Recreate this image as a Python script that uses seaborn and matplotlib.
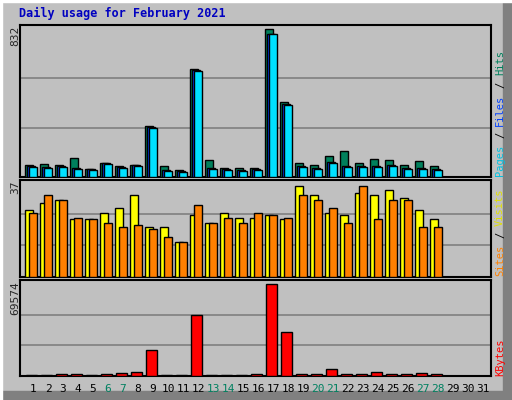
import numpy as np
import matplotlib
matplotlib.use('Agg')
import matplotlib.pyplot as plt
import seaborn as sns
from matplotlib.patches import Rectangle

sns.set_style('white')
plt.rcParams['font.family'] = ['DejaVu Sans Mono']

days = np.arange(1, 32)
weekend = [6, 7, 13, 14, 20, 21, 27, 28]

hits = [68, 74, 68, 108, 46, 79, 59, 68, 288, 63, 41, 607, 96, 52, 52, 52, 832, 420,
        79, 68, 118, 145, 79, 101, 96, 68, 90, 63, 0, 0, 0]
pages = [57, 52, 57, 46, 41, 74, 52, 63, 277, 35, 30, 596, 46, 41, 35, 41, 800, 404,
         57, 46, 79, 57, 57, 57, 63, 46, 46, 41, 0, 0, 0]
files = [p + 3 if p else 0 for p in pages]
visits = [26.2, 28.9, 30, 22.4, 22.4, 25, 27, 32, 19.3, 19.3, 13.5, 24.3, 21.2, 25, 23.1, 23.1,
          24.3, 22.4, 35.5, 32, 25, 24.3, 32.8, 32, 33.9, 30.8, 26.2, 22.4, 0, 0, 0]
sites = [25, 32, 30, 23.1, 22.4, 21.2, 19.3, 20.4, 18.5, 15.4, 13.5, 28.1, 21.2, 23.1, 21.2, 25,
         24.3, 23.1, 32, 30, 27, 21.2, 35.5, 22.4, 30, 30, 19.3, 19.3, 0, 0, 0]
kbytes = [700, 700, 1500, 1500, 700, 1500, 2200, 3300, 20000, 700, 700, 46400, 700, 700, 700,
          1500, 69574, 33700, 1500, 1500, 5500, 1500, 1500, 3300, 1500, 1500, 2200, 1500, 0, 0, 0]

W, H = 512, 400
fig = plt.figure(figsize=(W / 100, H / 100), dpi=100, facecolor='#C0C0C0')

# 3d border
fig.patches.append(Rectangle((503 / W, 0), 9 / W, 1, transform=fig.transFigure,
                             color='#808080', zorder=0))
fig.patches.append(Rectangle((0, 0), 1, 9 / H, transform=fig.transFigure,
                             color='#808080', zorder=0))
fig.patches.append(Rectangle((0, 1 - 2 / H), 1, 2 / H, transform=fig.transFigure,
                             color='white', zorder=0))
fig.patches.append(Rectangle((0, 0), 2 / W, 1, transform=fig.transFigure,
                             color='white', zorder=0))

X0, X1 = 20, 491
xlo = (X0 - 33) / 15 + 1
xhi = (X1 - 33) / 15 + 1


def panel(top, bottom):
    ax = fig.add_axes([X0 / W, 1 - bottom / H, (X1 - X0) / W, (bottom - top) / H])
    ax.set_facecolor('#C0C0C0')
    ax.set_xlim(xlo, xhi)
    for s in ax.spines.values():
        s.set_color('black')
        s.set_linewidth(1.5)
    ax.set_xticks([])
    ax.set_yticks([])
    return ax


def bars(ax, vals, off0, off1, color):
    w = (off1 - off0) / 15
    ax.bar(days + off0 / 15, vals, width=w, align='edge', color=color,
           edgecolor='black', linewidth=1, zorder=3)


def grid(ax, top, scale):
    ax.set_ylim(0, top * scale)
    for f in (1 / 3, 2 / 3):
        ax.axhline(top * f, color='#808080', lw=1.2, zorder=1)


ax1 = panel(25, 177)
grid(ax1, 832, 1.025)
bars(ax1, hits, -8, -0.3, '#00805C')
bars(ax1, files, -6, 1.7, '#0040FF')
bars(ax1, pages, -4, 3.7, '#00E0FF')

ax2 = panel(180, 277)
grid(ax2, 37, 1.02)
bars(ax2, visits, -8, 0.3, '#FFFF00')
bars(ax2, sites, -3.7, 3.7, '#FF8000')

ax3 = panel(280, 376)
grid(ax3, 69574, 1.045)
bars(ax3, kbytes, -7, 3.7, '#FF0000')

for d in days:
    fig.text((33 + 15 * (d - 1)) / W, 1 - 389 / H, str(d), ha='center', va='center',
             fontsize=8, color='#008060' if d in weekend else 'black')

fig.text(19 / W, 1 - 13 / H, 'Daily usage for February 2021', fontsize=8.5,
         fontweight='bold', color='#0000C0', va='center')

for y, lab in [(26, '832'), (181, '37'), (281, '69574')]:
    fig.text(15 / W, 1 - y / H, lab, rotation=90, ha='center', va='top', fontsize=8)


def side_label(ybottom, parts):
    y = ybottom
    for txt, col in parts:
        fig.text(500 / W, 1 - y / H, txt.strip(), rotation=90, ha='center', va='bottom',
                 fontsize=7.5, color=col)
        y -= len(txt) * 6.3


side_label(176, [('Pages', '#00C0E0'), (' ', 'black'), ('/', 'black'), (' ', 'black'),
                 ('Files', '#0040FF'), (' ', 'black'), ('/', 'black'), (' ', 'black'),
                 ('Hits', '#00805C')])
side_label(276, [('Sites', '#FF8000'), (' ', 'black'), ('/', 'black'), (' ', 'black'),
                 ('Visits', '#E0E000')])
side_label(376, [('KBytes', '#FF0000')])

fig.savefig('out.png', dpi=100, facecolor=fig.get_facecolor())
